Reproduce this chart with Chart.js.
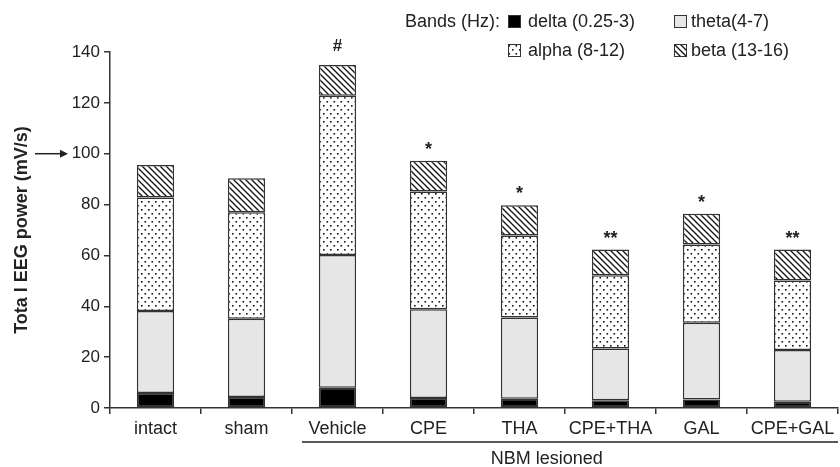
<!DOCTYPE html>
<html>
<head>
<meta charset="utf-8">
<script src="https://cdn.jsdelivr.net/npm/chart.js@4.4.1/dist/chart.umd.min.js"></script>
<style>
  html, body { margin:0; padding:0; background:#fff; }
  #wrap { width:840px; height:467px; position:relative; }
</style>
</head>
<body>
<div id="wrap"><canvas id="eeg"></canvas></div>
<script>
const groups = ["intact", "sham", "Vehicle", "CPE", "THA", "CPE+THA", "GAL", "CPE+GAL"];
// segment heights per band (mV/s)
const delta = [5.9, 4.3, 8.0, 3.9, 3.6, 3.0, 3.3, 2.5];
const theta = [32.2, 30.8, 52.2, 34.9, 32.0, 20.4, 30.2, 20.3];
const alpha = [44.7, 41.9, 62.6, 46.3, 32.2, 28.8, 30.8, 27.3];
const beta  = [12.8, 13.4, 12.1, 12.1, 11.9, 10.1, 12.1, 12.2];
const marks = ["", "", "#", "*", "*", "**", "*", "**"];
const yTicks = [0, 20, 40, 60, 80, 100, 120, 140];
const bandLabels = ["delta (0.25-3)", "theta(4-7)", "alpha (8-12)", "beta (13-16)"];

const INK = "#222";
const EDGE = "#333";
const FONT = "'Liberation Sans', Arial, Helvetica, sans-serif";

function tile(w, h, draw){
  const c = document.createElement("canvas");
  c.width = w; c.height = h;
  const g = c.getContext("2d");
  g.fillStyle = "#fff"; g.fillRect(0, 0, w, h);
  draw(g);
  return c.getContext("2d").createPattern(c, "repeat");
}

const dots = tile(7, 8, g => {
  g.fillStyle = "#111";
  g.fillRect(1, 1, 1.6, 1.6);
  g.fillRect(4.5, 5, 1.6, 1.6);
});
const hatch = tile(6, 6, g => {
  g.strokeStyle = "#111"; g.lineWidth = 1.3;
  g.beginPath();
  g.moveTo(-1, -1); g.lineTo(7, 7);
  g.moveTo(-1, 5); g.lineTo(1, 7);
  g.moveTo(5, -1); g.lineTo(7, 1);
  g.stroke();
});

const fills = ["#000", "#e6e6e6", dots, hatch];

const extras = {
  id: "extras",
  afterDatasetsDraw(chart){
    const ctx = chart.ctx;
    const x = chart.scales.x, y = chart.scales.y;
    const cw = x.getPixelForValue(1) - x.getPixelForValue(0);
    ctx.save();
    ctx.fillStyle = INK; ctx.strokeStyle = INK;

    // significance marks above the bars
    const top = chart.getDatasetMeta(3).data;
    ctx.textAlign = "center";
    ctx.textBaseline = "alphabetic";
    marks.forEach((m, i) => {
      if (!m) return;
      const b = top[i];
      ctx.font = m === "#" ? "bold 17px " + FONT : "bold 18px " + FONT;
      ctx.fillText(m, b.x, b.y - (m === "#" ? 14 : 6));
    });

    // arrow at 100
    const ya = y.getPixelForValue(100);
    ctx.lineWidth = 1.5;
    ctx.beginPath(); ctx.moveTo(35, ya); ctx.lineTo(62, ya); ctx.stroke();
    ctx.beginPath(); ctx.moveTo(68, ya); ctx.lineTo(60, ya - 4); ctx.lineTo(60, ya + 4); ctx.closePath(); ctx.fill();

    // NBM lesioned bracket
    const x0 = x.getPixelForValue(2) - 0.39 * cw;
    const x1 = chart.chartArea.right;
    ctx.lineWidth = 1.5;
    ctx.beginPath(); ctx.moveTo(x0, 442); ctx.lineTo(x1, 442); ctx.stroke();
    ctx.font = "18px " + FONT;
    ctx.textBaseline = "middle";
    ctx.fillText("NBM lesioned", x.getPixelForValue(4) + 0.3 * cw, 459);

    // legend
    ctx.textAlign = "left";
    ctx.font = "18px " + FONT;
    ctx.fillText("Bands (Hz):", 405, 22);
    const pos = [[508, 22], [674, 22], [508, 51], [674, 51]];
    pos.forEach(([px, py], i) => {
      ctx.fillStyle = fills[i];
      ctx.fillRect(px, py - 7, 13, 13);
      ctx.lineWidth = 1; ctx.strokeStyle = EDGE;
      ctx.strokeRect(px + 0.5, py - 6.5, 12, 12);
      ctx.fillStyle = INK;
      ctx.fillText(bandLabels[i], px + (i % 2 ? 17 : 20), py);
    });
    ctx.restore();
  }
};

new Chart(document.getElementById("eeg"), {
  type: "bar",
  data: {
    labels: groups,
    datasets: [delta, theta, alpha, beta].map((d, i) => ({
      label: bandLabels[i],
      data: d,
      backgroundColor: fills[i],
      borderColor: EDGE,
      borderWidth: 1.5,
      borderSkipped: false,
      categoryPercentage: 1,
      barPercentage: 0.41
    }))
  },
  options: {
    responsive: true,
    maintainAspectRatio: false,
    animation: false,
    layout: { padding: { left: 0, right: 2, top: 52, bottom: 0 } },
    plugins: { legend: { display: false }, tooltip: { enabled: false } },
    scales: {
      x: {
        stacked: true,
        afterFit: s => { s.height = 59; },
        grid: { drawOnChartArea: false, tickLength: 6, color: EDGE, lineWidth: 1.5 },
        border: { color: EDGE, width: 1.5 },
        ticks: { color: INK, font: { family: FONT, size: 18 }, padding: 4 },
      },
      y: {
        stacked: true,
        min: 0, max: 140,
        afterFit: s => { s.width = 110; },
        afterBuildTicks: s => { s.ticks = yTicks.map(v => ({ value: v })); },
        grid: { drawOnChartArea: false, tickLength: 6, color: EDGE, lineWidth: 1.5 },
        border: { color: EDGE, width: 1.5 },
        ticks: { color: INK, font: { family: FONT, size: 17 }, padding: 4 },
        title: {
          display: true,
          text: "Tota l EEG power (mV/s)",
          color: INK,
          font: { family: FONT, size: 18, weight: "bold" },
          padding: { top: 11, bottom: 0 }
        }
      }
    }
  },
  plugins: [extras]
});
</script>
</body>
</html>
